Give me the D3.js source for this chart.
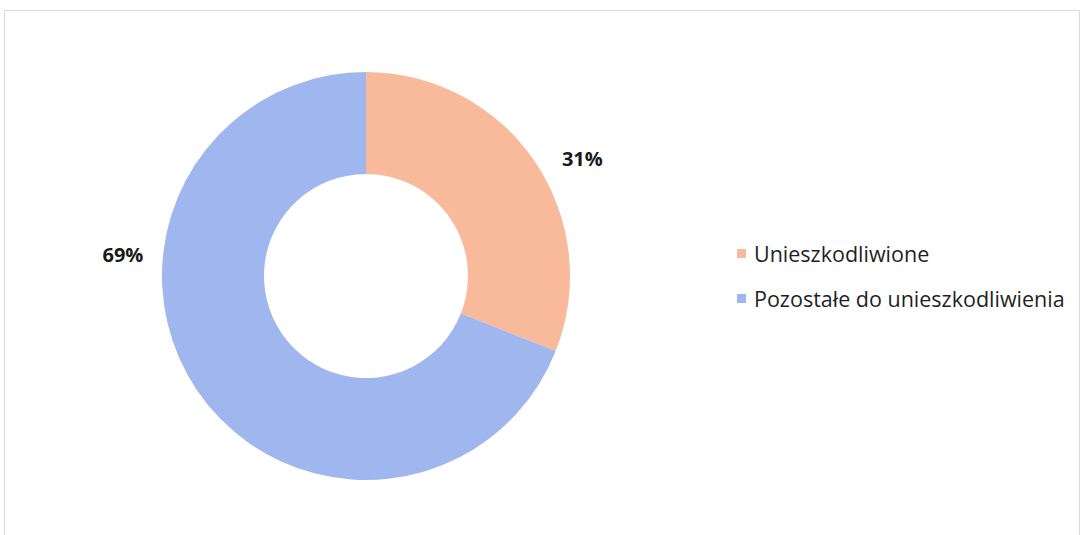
<!DOCTYPE html>
<html>
<head>
<meta charset="utf-8">
<script src="https://cdn.jsdelivr.net/npm/d3@7"></script>
<style>
  body { margin: 0; background: #fff; }
  svg { display: block; }
</style>
</head>
<body>
<svg id="chart"></svg>
<script>
const categories = ['Unieszkodliwione', 'Pozostałe do unieszkodliwienia'];
const values = [31, 69];
const colors = ['#F8BA9B', '#9FB6EE'];

const width = 1083;
const height = 535;
const cx = 366;
const cy = 276;
const outerR = 204;
const innerR = 102;

const svg = d3.select('#chart').attr('width', width).attr('height', height);

// frame
svg
  .append('path')
  .attr('d', `M4.5,${height}V10.5H1079.5V${height}`)
  .attr('fill', 'none')
  .attr('stroke', '#d9d9d9')
  .attr('stroke-width', 1);

const data = categories.map((name, i) => ({ name, value: values[i], color: colors[i] }));

const pie = d3.pie().sort(null).value((d) => d.value);
const arcs = pie(data);

const arc = d3.arc().innerRadius(innerR).outerRadius(outerR);

const g = svg.append('g').attr('transform', `translate(${cx},${cy})`);

g.selectAll('path')
  .data(arcs)
  .join('path')
  .attr('fill', (d) => d.data.color)
  .attr('d', arc);

// labels (manually placed outside the ring, like the source)
const labelAngle = [1.075, 4.8];
const labelR = [246, 244];
g.selectAll('text')
  .data(arcs)
  .join('text')
  .attr('x', (d, i) => labelR[i] * Math.sin(labelAngle[i]))
  .attr('y', (d, i) => -labelR[i] * Math.cos(labelAngle[i]))
  .attr('text-anchor', 'middle')
  .attr('dominant-baseline', 'central')
  .attr('font-family', 'Open Sans, sans-serif')
  .attr('font-weight', 'bold')
  .attr('font-size', 20)
  .attr('fill', '#1a1a1a')
  .text((d) => `${d.data.value}%`);

// legend
const legend = svg
  .append('g')
  .attr('transform', 'translate(737,253)')
  .selectAll('g')
  .data(data)
  .join('g')
  .attr('transform', (d, i) => `translate(0,${i * 45})`);

legend
  .append('rect')
  .attr('x', 0)
  .attr('y', -4)
  .attr('width', 9)
  .attr('height', 9)
  .attr('fill', (d) => d.color);

legend
  .append('text')
  .attr('x', 17)
  .attr('y', 0)
  .attr('dominant-baseline', 'central')
  .attr('font-family', 'Open Sans, sans-serif')
  .attr('font-size', 21.5)
  .attr('fill', '#1f1f1f')
  .text((d) => d.name);
</script>
</body>
</html>
